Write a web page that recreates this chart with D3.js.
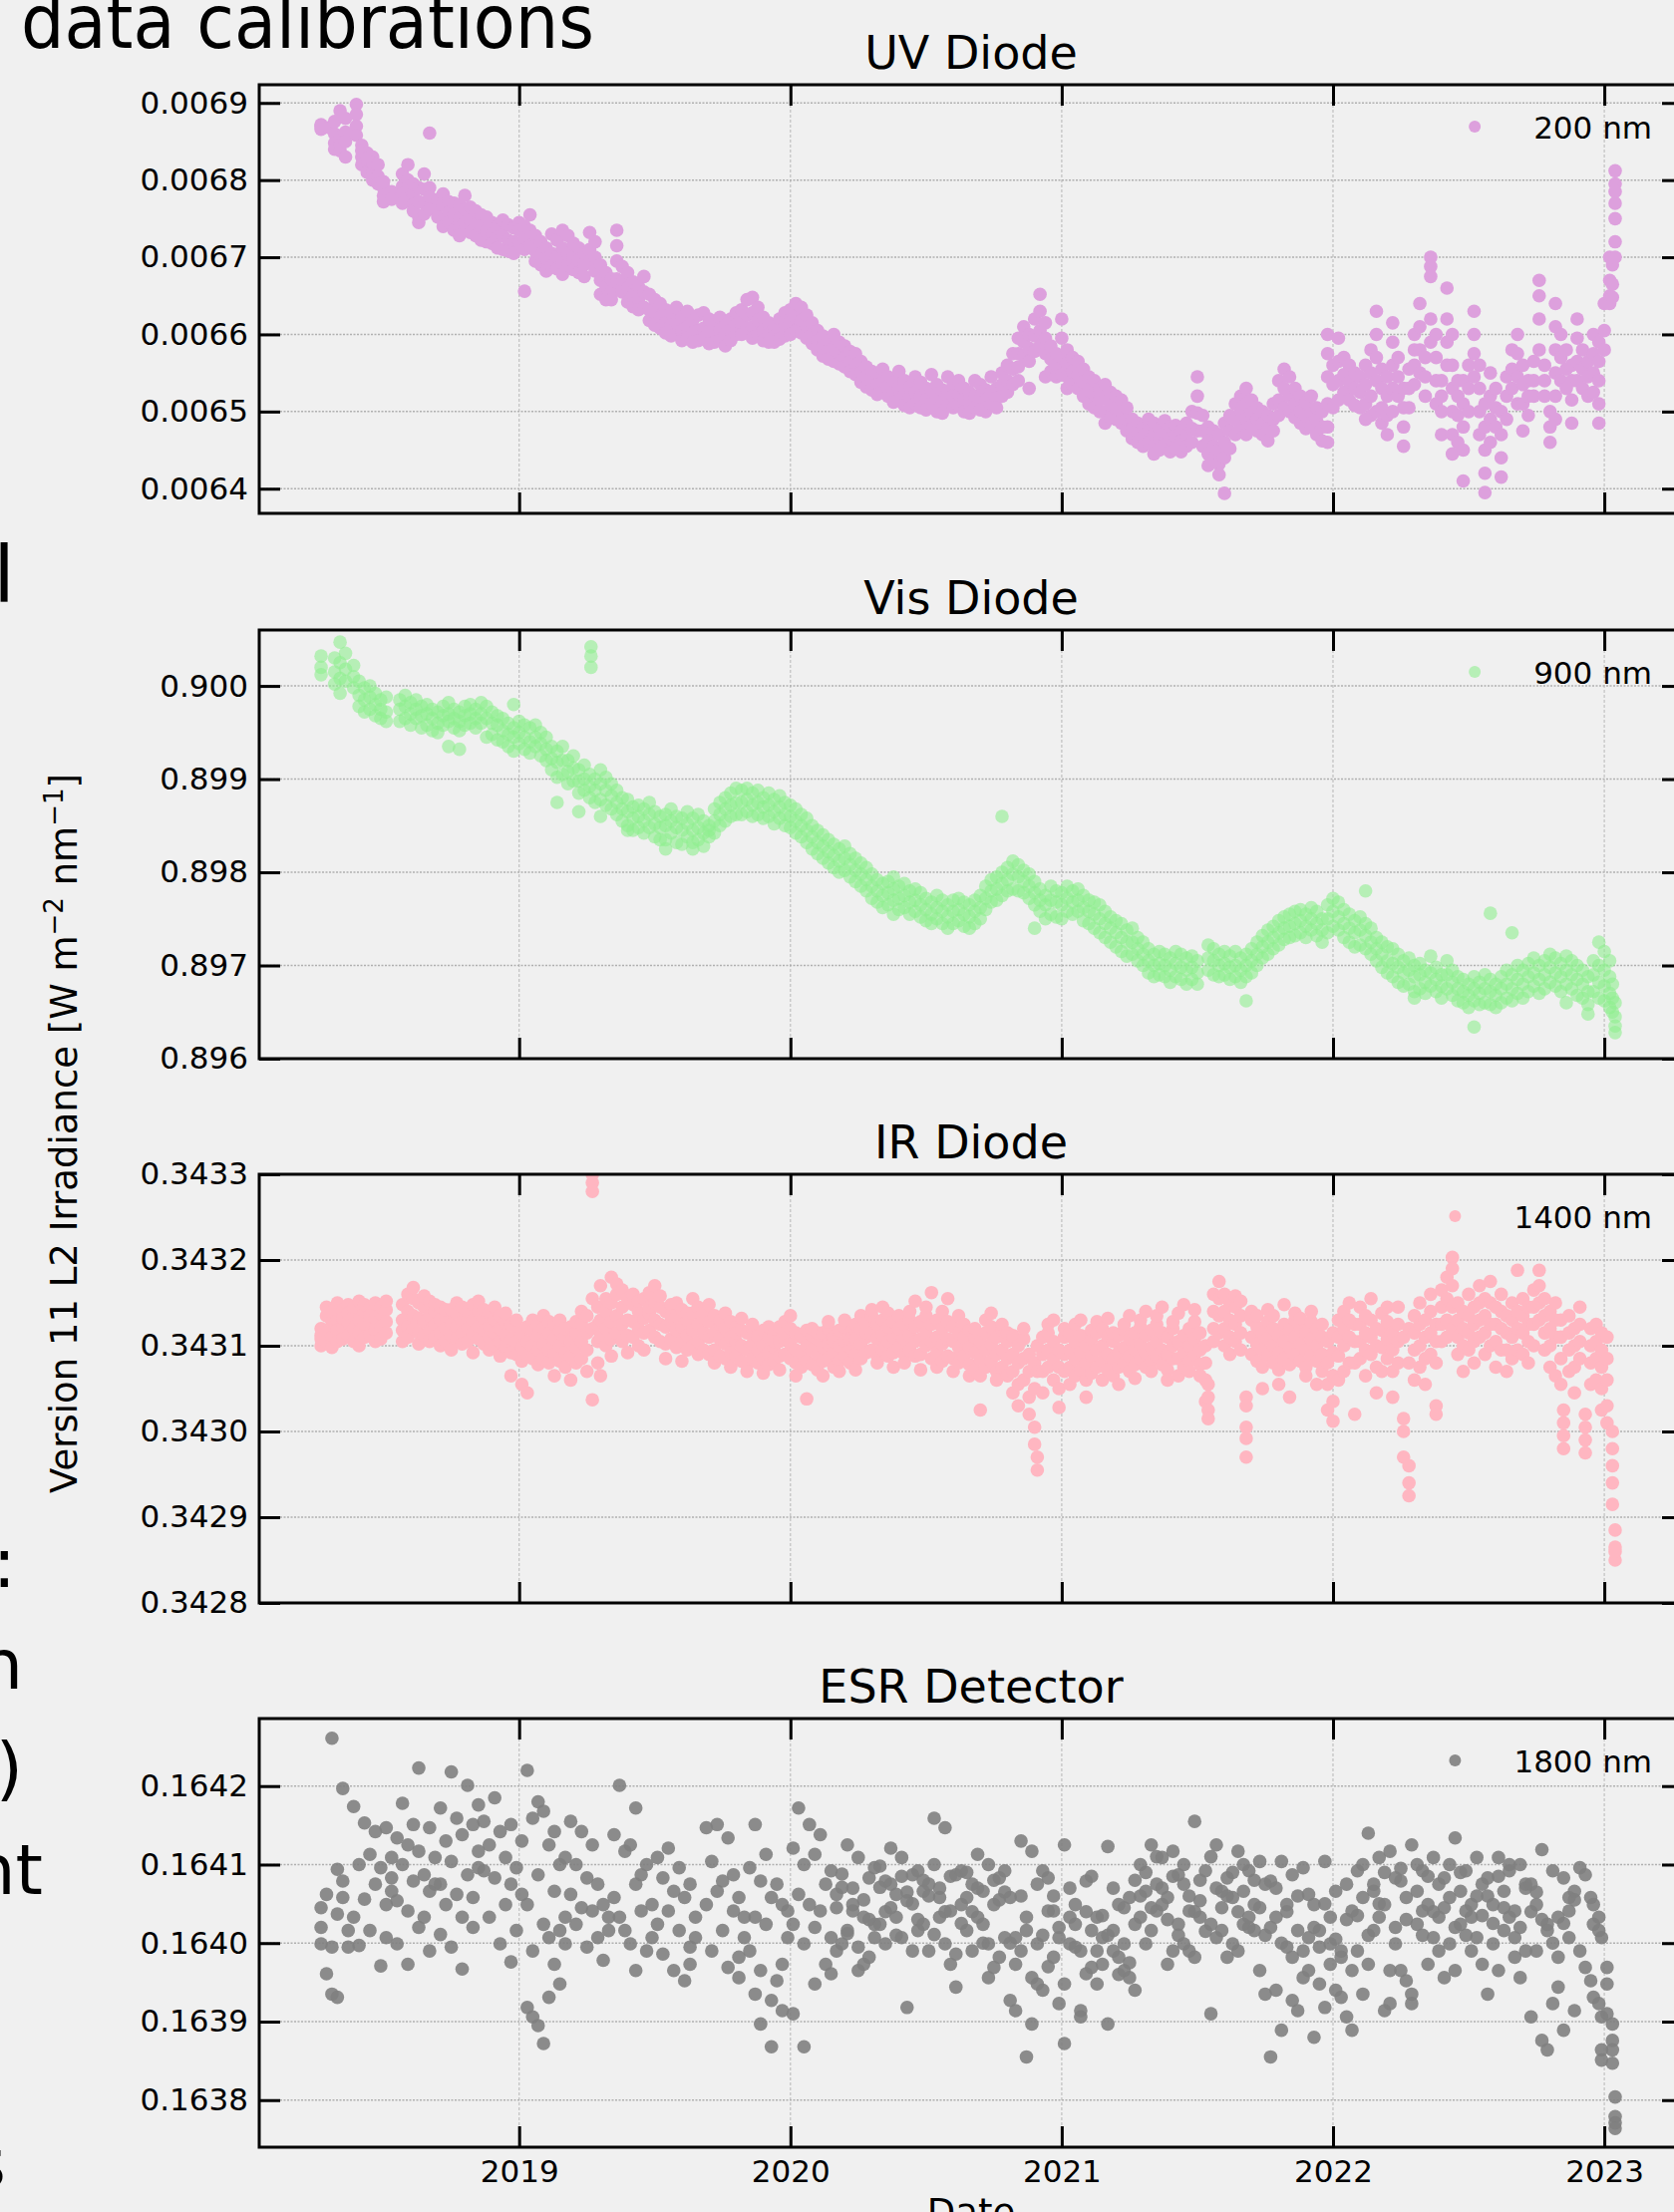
<!DOCTYPE html>
<html>
<head>
<meta charset="utf-8">
<script src="https://cdn.jsdelivr.net/npm/d3@7"></script>
<style>
  body { margin: 0; background: #f0f0f0; }
  text { font-family: "DejaVu Sans", sans-serif; }
</style>
</head>
<body>
<svg id="chart"></svg>
<script>
// --- data: [decimal year, value, value, ...] ---
const years = [2019, 2020, 2021, 2022, 2023];

const uvTicks = [0.0064, 0.0065, 0.0066, 0.0067, 0.0068, 0.0069];
const uvDomain = [0.006368, 0.0069236];
const uvRows = [
  [2018.27, 0.006872, 0.006866, 0.006870], [2018.30, 0.006868],
  [2018.32, 0.006860, 0.006848, 0.006876, 0.006840], [2018.34, 0.006890, 0.006855, 0.006838, 0.006845],
  [2018.36, 0.006880, 0.006862, 0.006830, 0.006850], [2018.40, 0.006898, 0.006885, 0.006870, 0.006858],
  [2018.42, 0.006845, 0.006830, 0.006820, 0.006838], [2018.44, 0.006835, 0.006815, 0.006810, 0.006828],
  [2018.46, 0.006830, 0.006812, 0.006800, 0.006822], [2018.48, 0.006805, 0.006795, 0.006820],
  [2018.50, 0.006790, 0.006780, 0.006772, 0.006798], [2018.53, 0.006785, 0.006775],
  [2018.57, 0.006808, 0.006792, 0.006782, 0.006770], [2018.59, 0.006820, 0.006800, 0.006788, 0.006776],
  [2018.61, 0.006795, 0.006780, 0.006768, 0.006760], [2018.63, 0.006790, 0.006772, 0.006752, 0.006745],
  [2018.65, 0.006808, 0.006788, 0.006770, 0.006756], [2018.67, 0.006861, 0.006790, 0.006778, 0.006762],
  [2018.70, 0.006775, 0.006765, 0.006752], [2018.72, 0.006782, 0.006768, 0.006748, 0.006740],
  [2018.74, 0.006772, 0.006758, 0.006745], [2018.76, 0.006770, 0.006755, 0.006735],
  [2018.78, 0.006768, 0.006750, 0.006738, 0.006728], [2018.80, 0.006780, 0.006762, 0.006745],
  [2018.82, 0.006765, 0.006748, 0.006732], [2018.84, 0.006760, 0.006742, 0.006728],
  [2018.86, 0.006755, 0.006740, 0.006722], [2018.88, 0.006752, 0.006735, 0.006720],
  [2018.90, 0.006745, 0.006730, 0.006718], [2018.92, 0.006740, 0.006726, 0.006712],
  [2018.94, 0.006748, 0.006728, 0.006710], [2018.96, 0.006742, 0.006722, 0.006708],
  [2018.98, 0.006738, 0.006720, 0.006705], [2019.00, 0.006745, 0.006735, 0.006718],
  [2019.02, 0.006740, 0.006726, 0.006710, 0.006656], [2019.04, 0.006755, 0.006735, 0.006715],
  [2019.06, 0.006728, 0.006708, 0.006695], [2019.08, 0.006720, 0.006702, 0.006690],
  [2019.10, 0.006712, 0.006698, 0.006682], [2019.12, 0.006730, 0.006705, 0.006688],
  [2019.14, 0.006722, 0.006700, 0.006685], [2019.16, 0.006735, 0.006712, 0.006692, 0.006678],
  [2019.18, 0.006728, 0.006705, 0.006690], [2019.20, 0.006718, 0.006700, 0.006684],
  [2019.22, 0.006712, 0.006695, 0.006680], [2019.24, 0.006705, 0.006690, 0.006675],
  [2019.26, 0.006732, 0.006710, 0.006695], [2019.28, 0.006720, 0.006700, 0.006682],
  [2019.30, 0.006690, 0.006670, 0.006652], [2019.32, 0.006680, 0.006662, 0.006645],
  [2019.34, 0.006672, 0.006655, 0.006645], [2019.36, 0.006735, 0.006715, 0.006695, 0.006672, 0.006668],
  [2019.38, 0.006688, 0.006668, 0.006655], [2019.40, 0.006680, 0.006660, 0.006642],
  [2019.42, 0.006668, 0.006650, 0.006636], [2019.44, 0.006662, 0.006645, 0.006632],
  [2019.46, 0.006675, 0.006655, 0.006635], [2019.48, 0.006652, 0.006632, 0.006618],
  [2019.50, 0.006645, 0.006628, 0.006612], [2019.52, 0.006640, 0.006622, 0.006608],
  [2019.54, 0.006632, 0.006615, 0.006602], [2019.56, 0.006628, 0.006612, 0.006598],
  [2019.58, 0.006635, 0.006615, 0.006600], [2019.60, 0.006622, 0.006605, 0.006592],
  [2019.62, 0.006630, 0.006610, 0.006595], [2019.64, 0.006618, 0.006602, 0.006590],
  [2019.66, 0.006625, 0.006605, 0.006592], [2019.68, 0.006628, 0.006608, 0.006595],
  [2019.70, 0.006620, 0.006604, 0.006588], [2019.72, 0.006612, 0.006598, 0.006590],
  [2019.74, 0.006622, 0.006606, 0.006592], [2019.76, 0.006612, 0.006600, 0.006585],
  [2019.78, 0.006620, 0.006605, 0.006592], [2019.80, 0.006628, 0.006612, 0.006600],
  [2019.82, 0.006632, 0.006615, 0.006600], [2019.84, 0.006645, 0.006625, 0.006608],
  [2019.86, 0.006648, 0.006628, 0.006610, 0.006595], [2019.88, 0.006635, 0.006618, 0.006600],
  [2019.90, 0.006622, 0.006605, 0.006592], [2019.92, 0.006615, 0.006600, 0.006590],
  [2019.94, 0.006610, 0.006598, 0.006590], [2019.96, 0.006620, 0.006605, 0.006594],
  [2019.98, 0.006628, 0.006612, 0.006598], [2020.00, 0.006632, 0.006615, 0.006600],
  [2020.02, 0.006640, 0.006622, 0.006605], [2020.04, 0.006635, 0.006618, 0.006602],
  [2020.06, 0.006625, 0.006610, 0.006595], [2020.08, 0.006615, 0.006600, 0.006588],
  [2020.10, 0.006605, 0.006592, 0.006580], [2020.12, 0.006598, 0.006585, 0.006572],
  [2020.14, 0.006592, 0.006578, 0.006568], [2020.16, 0.006600, 0.006582, 0.006565],
  [2020.18, 0.006590, 0.006575, 0.006562], [2020.20, 0.006585, 0.006570, 0.006558],
  [2020.22, 0.006578, 0.006565, 0.006552], [2020.24, 0.006575, 0.006560, 0.006548],
  [2020.26, 0.006565, 0.006550, 0.006538], [2020.28, 0.006558, 0.006545, 0.006532],
  [2020.30, 0.006552, 0.006540, 0.006528], [2020.32, 0.006548, 0.006535, 0.006522],
  [2020.34, 0.006555, 0.006538, 0.006525], [2020.36, 0.006545, 0.006532, 0.006520],
  [2020.38, 0.006538, 0.006525, 0.006512], [2020.40, 0.006552, 0.006530, 0.006515],
  [2020.42, 0.006540, 0.006522, 0.006508], [2020.44, 0.006532, 0.006518, 0.006505],
  [2020.46, 0.006545, 0.006525, 0.006510], [2020.48, 0.006538, 0.006520, 0.006505],
  [2020.50, 0.006530, 0.006515, 0.006502], [2020.52, 0.006548, 0.006528, 0.006510],
  [2020.54, 0.006535, 0.006518, 0.006500], [2020.56, 0.006528, 0.006512, 0.006498],
  [2020.58, 0.006545, 0.006525, 0.006508], [2020.60, 0.006535, 0.006520, 0.006505],
  [2020.62, 0.006540, 0.006522, 0.006508], [2020.64, 0.006530, 0.006515, 0.006500],
  [2020.66, 0.006525, 0.006512, 0.006498], [2020.68, 0.006540, 0.006520, 0.006505],
  [2020.70, 0.006535, 0.006518, 0.006502], [2020.72, 0.006528, 0.006515, 0.006500],
  [2020.74, 0.006545, 0.006525, 0.006510], [2020.76, 0.006530, 0.006518, 0.006505],
  [2020.78, 0.006550, 0.006535, 0.006520], [2020.80, 0.006560, 0.006540, 0.006525],
  [2020.82, 0.006575, 0.006555, 0.006535], [2020.84, 0.006595, 0.006575, 0.006558, 0.006540],
  [2020.86, 0.006610, 0.006590, 0.006572], [2020.88, 0.006600, 0.006582, 0.006565, 0.006530],
  [2020.90, 0.006620, 0.006598, 0.006578], [2020.92, 0.006652, 0.006630, 0.006605, 0.006585],
  [2020.94, 0.006615, 0.006595, 0.006575, 0.006545], [2020.96, 0.006585, 0.006568, 0.006552],
  [2020.98, 0.006575, 0.006560, 0.006545], [2021.00, 0.006620, 0.006595, 0.006570, 0.006548],
  [2021.02, 0.006580, 0.006562, 0.006545, 0.006530], [2021.04, 0.006570, 0.006552, 0.006535],
  [2021.06, 0.006565, 0.006548, 0.006530], [2021.08, 0.006555, 0.006538, 0.006520],
  [2021.10, 0.006545, 0.006528, 0.006510], [2021.12, 0.006540, 0.006522, 0.006505],
  [2021.14, 0.006530, 0.006515, 0.006500], [2021.16, 0.006535, 0.006518, 0.006500, 0.006485],
  [2021.18, 0.006525, 0.006508, 0.006492], [2021.20, 0.006520, 0.006505, 0.006490],
  [2021.22, 0.006515, 0.006500, 0.006485], [2021.24, 0.006505, 0.006490, 0.006475],
  [2021.26, 0.006490, 0.006478, 0.006465], [2021.28, 0.006485, 0.006472, 0.006460],
  [2021.30, 0.006480, 0.006468, 0.006455], [2021.32, 0.006490, 0.006475, 0.006460],
  [2021.34, 0.006485, 0.006470, 0.006455, 0.006445], [2021.36, 0.006478, 0.006465, 0.006450],
  [2021.38, 0.006488, 0.006472, 0.006458], [2021.40, 0.006480, 0.006465, 0.006448],
  [2021.42, 0.006482, 0.006468, 0.006452], [2021.44, 0.006475, 0.006462, 0.006448],
  [2021.46, 0.006485, 0.006470, 0.006455], [2021.48, 0.006500, 0.006478, 0.006460],
  [2021.50, 0.006545, 0.006520, 0.006498, 0.006475], [2021.52, 0.006495, 0.006475, 0.006455],
  [2021.54, 0.006480, 0.006462, 0.006445, 0.006430], [2021.56, 0.006475, 0.006455, 0.006438],
  [2021.58, 0.006470, 0.006450, 0.006432, 0.006418], [2021.60, 0.006485, 0.006460, 0.006440, 0.006394],
  [2021.62, 0.006495, 0.006475, 0.006452], [2021.64, 0.006510, 0.006490, 0.006470],
  [2021.66, 0.006520, 0.006500, 0.006480], [2021.68, 0.006530, 0.006510, 0.006490, 0.006470],
  [2021.70, 0.006515, 0.006498, 0.006482], [2021.72, 0.006505, 0.006490, 0.006475],
  [2021.74, 0.006500, 0.006485, 0.006470], [2021.76, 0.006495, 0.006478, 0.006462],
  [2021.78, 0.006510, 0.006490, 0.006475], [2021.80, 0.006540, 0.006515, 0.006495],
  [2021.82, 0.006555, 0.006530, 0.006505], [2021.84, 0.006545, 0.006520, 0.006500],
  [2021.86, 0.006530, 0.006510, 0.006492], [2021.88, 0.006520, 0.006500, 0.006485],
  [2021.90, 0.006512, 0.006495, 0.006478], [2021.92, 0.006520, 0.006500, 0.006480],
  [2021.94, 0.006505, 0.006488, 0.006470], [2021.96, 0.006500, 0.006480, 0.006462],
  [2021.98, 0.006600, 0.006575, 0.006545, 0.006510, 0.006480, 0.006460], [2022.00, 0.006560, 0.006535, 0.006505],
  [2022.02, 0.006595, 0.006565, 0.006540, 0.006515], [2022.04, 0.006570, 0.006548, 0.006525],
  [2022.06, 0.006560, 0.006538, 0.006515], [2022.08, 0.006550, 0.006530, 0.006508],
  [2022.10, 0.006545, 0.006525, 0.006505], [2022.12, 0.006560, 0.006535, 0.006510, 0.006490],
  [2022.14, 0.006580, 0.006550, 0.006520, 0.006495], [2022.16, 0.006630, 0.006600, 0.006570, 0.006540, 0.006500],
  [2022.18, 0.006555, 0.006530, 0.006505, 0.006485], [2022.20, 0.006545, 0.006520, 0.006495, 0.006470],
  [2022.22, 0.006615, 0.006590, 0.006560, 0.006530, 0.006500], [2022.24, 0.006570, 0.006545, 0.006520],
  [2022.26, 0.006530, 0.006505, 0.006480, 0.006455], [2022.28, 0.006555, 0.006530, 0.006505],
  [2022.30, 0.006600, 0.006580, 0.006560, 0.006535], [2022.32, 0.006640, 0.006610, 0.006580, 0.006550],
  [2022.34, 0.006570, 0.006545, 0.006520], [2022.36, 0.006700, 0.006688, 0.006675, 0.006620, 0.006590],
  [2022.38, 0.006600, 0.006570, 0.006540, 0.006510], [2022.40, 0.006540, 0.006520, 0.006500, 0.006470],
  [2022.42, 0.006660, 0.006620, 0.006590, 0.006560], [2022.44, 0.006600, 0.006560, 0.006530, 0.006500, 0.006470, 0.006445],
  [2022.46, 0.006540, 0.006520, 0.006495, 0.006460], [2022.48, 0.006540, 0.006510, 0.006480, 0.006450, 0.006410],
  [2022.50, 0.006560, 0.006530, 0.006500], [2022.52, 0.006630, 0.006600, 0.006575, 0.006545],
  [2022.54, 0.006560, 0.006530, 0.006500, 0.006470], [2022.56, 0.006510, 0.006480, 0.006450, 0.006420, 0.006395],
  [2022.58, 0.006550, 0.006520, 0.006490, 0.006460], [2022.60, 0.006530, 0.006505, 0.006480],
  [2022.62, 0.006500, 0.006470, 0.006440, 0.006415], [2022.64, 0.006545, 0.006520, 0.006490],
  [2022.66, 0.006580, 0.006555, 0.006530], [2022.68, 0.006600, 0.006575, 0.006545, 0.006510],
  [2022.70, 0.006560, 0.006535, 0.006510, 0.006475], [2022.72, 0.006540, 0.006520, 0.006495],
  [2022.74, 0.006565, 0.006540, 0.006520], [2022.76, 0.006670, 0.006650, 0.006620, 0.006580],
  [2022.78, 0.006560, 0.006540, 0.006520], [2022.80, 0.006500, 0.006480, 0.006460],
  [2022.82, 0.006640, 0.006610, 0.006580, 0.006550, 0.006520, 0.006490], [2022.84, 0.006600, 0.006570, 0.006540],
  [2022.86, 0.006580, 0.006555, 0.006530], [2022.88, 0.006560, 0.006540, 0.006515, 0.006485],
  [2022.90, 0.006620, 0.006595, 0.006565, 0.006540], [2022.92, 0.006580, 0.006555, 0.006530],
  [2022.94, 0.006565, 0.006545, 0.006520], [2022.96, 0.006600, 0.006575, 0.006550, 0.006525],
  [2022.98, 0.006590, 0.006565, 0.006540, 0.006510, 0.006485], [2023.00, 0.006640, 0.006605, 0.006580],
  [2023.02, 0.006700, 0.006670, 0.006650, 0.006640], [2023.03, 0.006690, 0.006665, 0.006648],
  [2023.04, 0.006812, 0.006795, 0.006785, 0.006770, 0.006750, 0.006720, 0.006700]
];

const visTicks = [0.896, 0.897, 0.898, 0.899, 0.900];
const visDomain = [0.896, 0.9006];
const visRows = [
  [2018.27, 0.90032, 0.90020, 0.90012], [2018.32, 0.90030, 0.90015, 0.90002],
  [2018.34, 0.90047, 0.90025, 0.90008, 0.89992], [2018.36, 0.90035, 0.90018, 0.90005],
  [2018.39, 0.90010, 0.89998, 0.90022], [2018.41, 0.90005, 0.89990, 0.89978],
  [2018.43, 0.89998, 0.89985, 0.89972], [2018.45, 0.90000, 0.89988, 0.89975],
  [2018.47, 0.89992, 0.89980, 0.89968], [2018.49, 0.89985, 0.89975, 0.89965],
  [2018.51, 0.89988, 0.89972, 0.89962], [2018.56, 0.89985, 0.89975, 0.89962],
  [2018.58, 0.89990, 0.89978, 0.89965], [2018.60, 0.89982, 0.89970, 0.89958],
  [2018.62, 0.89985, 0.89975, 0.89965], [2018.64, 0.89978, 0.89968, 0.89955],
  [2018.66, 0.89980, 0.89970, 0.89958], [2018.68, 0.89975, 0.89965, 0.89952],
  [2018.70, 0.89972, 0.89960, 0.89950], [2018.72, 0.89978, 0.89968, 0.89958],
  [2018.74, 0.89982, 0.89970, 0.89962, 0.89935], [2018.76, 0.89975, 0.89965, 0.89955],
  [2018.78, 0.89972, 0.89962, 0.89952, 0.89932], [2018.80, 0.89978, 0.89968, 0.89958],
  [2018.82, 0.89980, 0.89970, 0.89960], [2018.84, 0.89975, 0.89965, 0.89955],
  [2018.86, 0.89982, 0.89970, 0.89960], [2018.88, 0.89978, 0.89965, 0.89945],
  [2018.90, 0.89972, 0.89960, 0.89948], [2018.92, 0.89968, 0.89958, 0.89942],
  [2018.94, 0.89965, 0.89952, 0.89940], [2018.96, 0.89960, 0.89948, 0.89935],
  [2018.98, 0.89955, 0.89945, 0.89930, 0.89980], [2019.00, 0.89962, 0.89950, 0.89938],
  [2019.02, 0.89958, 0.89945, 0.89932], [2019.04, 0.89955, 0.89940, 0.89928],
  [2019.06, 0.89958, 0.89945, 0.89935], [2019.08, 0.89950, 0.89938, 0.89925],
  [2019.10, 0.89945, 0.89932, 0.89920], [2019.12, 0.89935, 0.89922, 0.89910],
  [2019.14, 0.89930, 0.89918, 0.89902, 0.89875], [2019.16, 0.89935, 0.89920, 0.89905],
  [2019.18, 0.89920, 0.89908, 0.89895], [2019.20, 0.89925, 0.89912, 0.89898],
  [2019.22, 0.89910, 0.89898, 0.89885, 0.89865], [2019.24, 0.89915, 0.89900, 0.89888],
  [2019.26, 0.89905, 0.89892, 0.89880], [2019.265, 0.90042, 0.90032, 0.90020],
  [2019.28, 0.89900, 0.89888, 0.89875], [2019.30, 0.89910, 0.89895, 0.89878, 0.89860],
  [2019.32, 0.89902, 0.89888, 0.89872], [2019.34, 0.89895, 0.89882, 0.89868],
  [2019.36, 0.89888, 0.89875, 0.89862], [2019.38, 0.89880, 0.89868, 0.89855],
  [2019.40, 0.89878, 0.89865, 0.89850, 0.89845], [2019.42, 0.89870, 0.89858, 0.89845],
  [2019.44, 0.89872, 0.89860, 0.89848], [2019.46, 0.89868, 0.89855, 0.89842],
  [2019.48, 0.89875, 0.89862, 0.89848], [2019.50, 0.89865, 0.89852, 0.89838],
  [2019.52, 0.89860, 0.89848, 0.89835], [2019.54, 0.89862, 0.89850, 0.89835, 0.89825],
  [2019.56, 0.89868, 0.89855, 0.89842], [2019.58, 0.89860, 0.89848, 0.89832],
  [2019.60, 0.89858, 0.89845, 0.89830], [2019.62, 0.89865, 0.89852, 0.89838],
  [2019.64, 0.89858, 0.89845, 0.89832, 0.89825], [2019.66, 0.89862, 0.89848, 0.89835],
  [2019.68, 0.89855, 0.89842, 0.89828], [2019.70, 0.89850, 0.89838, 0.89845],
  [2019.72, 0.89868, 0.89855, 0.89842], [2019.74, 0.89875, 0.89862, 0.89850],
  [2019.76, 0.89880, 0.89868, 0.89855], [2019.78, 0.89885, 0.89872, 0.89860],
  [2019.80, 0.89890, 0.89875, 0.89862], [2019.82, 0.89888, 0.89875, 0.89862],
  [2019.84, 0.89890, 0.89878, 0.89865], [2019.86, 0.89885, 0.89872, 0.89860],
  [2019.88, 0.89888, 0.89875, 0.89862], [2019.90, 0.89880, 0.89870, 0.89858],
  [2019.92, 0.89885, 0.89872, 0.89860], [2019.94, 0.89878, 0.89865, 0.89852],
  [2019.96, 0.89882, 0.89870, 0.89858], [2019.98, 0.89875, 0.89862, 0.89850],
  [2020.00, 0.89872, 0.89860, 0.89848], [2020.02, 0.89868, 0.89855, 0.89842],
  [2020.04, 0.89862, 0.89850, 0.89838], [2020.06, 0.89858, 0.89845, 0.89832],
  [2020.08, 0.89850, 0.89838, 0.89825], [2020.10, 0.89845, 0.89832, 0.89820],
  [2020.12, 0.89840, 0.89828, 0.89815], [2020.14, 0.89835, 0.89822, 0.89810],
  [2020.16, 0.89830, 0.89818, 0.89805], [2020.18, 0.89825, 0.89812, 0.89800],
  [2020.20, 0.89828, 0.89815, 0.89802], [2020.22, 0.89820, 0.89808, 0.89795],
  [2020.24, 0.89815, 0.89802, 0.89790], [2020.26, 0.89810, 0.89798, 0.89785],
  [2020.28, 0.89805, 0.89792, 0.89780], [2020.30, 0.89798, 0.89785, 0.89772],
  [2020.32, 0.89792, 0.89780, 0.89768], [2020.34, 0.89788, 0.89775, 0.89762],
  [2020.36, 0.89790, 0.89778, 0.89765], [2020.38, 0.89795, 0.89782, 0.89770, 0.89755],
  [2020.40, 0.89785, 0.89772, 0.89760], [2020.42, 0.89788, 0.89775, 0.89762],
  [2020.44, 0.89780, 0.89768, 0.89755], [2020.46, 0.89782, 0.89770, 0.89758],
  [2020.48, 0.89778, 0.89765, 0.89752], [2020.50, 0.89772, 0.89760, 0.89748],
  [2020.52, 0.89768, 0.89755, 0.89745], [2020.54, 0.89775, 0.89762, 0.89750],
  [2020.56, 0.89770, 0.89758, 0.89745], [2020.58, 0.89765, 0.89752, 0.89740],
  [2020.60, 0.89770, 0.89758, 0.89745], [2020.62, 0.89772, 0.89760, 0.89748],
  [2020.64, 0.89768, 0.89755, 0.89742], [2020.66, 0.89765, 0.89752, 0.89740],
  [2020.68, 0.89770, 0.89758, 0.89745], [2020.70, 0.89775, 0.89762, 0.89750],
  [2020.72, 0.89785, 0.89772, 0.89760], [2020.74, 0.89792, 0.89780, 0.89768],
  [2020.76, 0.89795, 0.89782, 0.89770], [2020.78, 0.89800, 0.89788, 0.89775, 0.89860],
  [2020.80, 0.89805, 0.89792, 0.89780], [2020.82, 0.89812, 0.89798, 0.89782],
  [2020.84, 0.89808, 0.89795, 0.89780], [2020.86, 0.89802, 0.89790, 0.89778],
  [2020.88, 0.89798, 0.89785, 0.89772], [2020.90, 0.89790, 0.89778, 0.89765, 0.89740],
  [2020.92, 0.89782, 0.89770, 0.89758], [2020.94, 0.89775, 0.89765, 0.89750],
  [2020.96, 0.89785, 0.89770, 0.89755], [2020.98, 0.89780, 0.89768, 0.89752],
  [2021.00, 0.89778, 0.89765, 0.89750], [2021.02, 0.89785, 0.89772, 0.89758],
  [2021.04, 0.89780, 0.89768, 0.89755], [2021.06, 0.89782, 0.89770, 0.89758],
  [2021.08, 0.89775, 0.89762, 0.89748], [2021.10, 0.89770, 0.89758, 0.89745],
  [2021.12, 0.89768, 0.89755, 0.89740], [2021.14, 0.89765, 0.89750, 0.89735],
  [2021.16, 0.89758, 0.89745, 0.89730], [2021.18, 0.89752, 0.89740, 0.89725],
  [2021.20, 0.89748, 0.89735, 0.89720], [2021.22, 0.89745, 0.89730, 0.89715],
  [2021.24, 0.89738, 0.89725, 0.89710], [2021.26, 0.89740, 0.89725, 0.89712],
  [2021.28, 0.89730, 0.89718, 0.89705], [2021.30, 0.89725, 0.89712, 0.89700],
  [2021.32, 0.89718, 0.89705, 0.89692], [2021.34, 0.89712, 0.89700, 0.89688],
  [2021.36, 0.89715, 0.89702, 0.89690], [2021.38, 0.89712, 0.89700, 0.89688],
  [2021.40, 0.89708, 0.89695, 0.89682], [2021.42, 0.89715, 0.89702, 0.89688],
  [2021.44, 0.89712, 0.89698, 0.89685], [2021.46, 0.89708, 0.89695, 0.89680],
  [2021.48, 0.89710, 0.89698, 0.89685], [2021.50, 0.89705, 0.89692, 0.89680],
  [2021.54, 0.89722, 0.89708, 0.89695], [2021.56, 0.89718, 0.89705, 0.89690],
  [2021.58, 0.89712, 0.89700, 0.89688], [2021.60, 0.89715, 0.89702, 0.89690],
  [2021.62, 0.89710, 0.89698, 0.89685], [2021.64, 0.89715, 0.89700, 0.89688],
  [2021.66, 0.89708, 0.89695, 0.89682], [2021.68, 0.89712, 0.89700, 0.89688, 0.89662],
  [2021.70, 0.89718, 0.89705, 0.89692], [2021.72, 0.89725, 0.89712, 0.89700],
  [2021.74, 0.89732, 0.89720, 0.89708], [2021.76, 0.89738, 0.89725, 0.89712],
  [2021.78, 0.89742, 0.89730, 0.89718], [2021.80, 0.89748, 0.89735, 0.89722],
  [2021.82, 0.89752, 0.89740, 0.89728], [2021.84, 0.89755, 0.89742, 0.89730],
  [2021.86, 0.89758, 0.89745, 0.89732], [2021.88, 0.89760, 0.89748, 0.89735],
  [2021.90, 0.89755, 0.89742, 0.89730], [2021.92, 0.89762, 0.89750, 0.89738],
  [2021.94, 0.89758, 0.89745, 0.89732], [2021.96, 0.89750, 0.89738, 0.89725],
  [2021.98, 0.89765, 0.89750, 0.89735], [2022.00, 0.89772, 0.89758, 0.89742],
  [2022.02, 0.89768, 0.89752, 0.89738], [2022.04, 0.89760, 0.89745, 0.89730],
  [2022.06, 0.89755, 0.89740, 0.89725], [2022.08, 0.89748, 0.89735, 0.89720],
  [2022.10, 0.89752, 0.89738, 0.89722], [2022.12, 0.89745, 0.89732, 0.89718, 0.89780],
  [2022.14, 0.89740, 0.89725, 0.89712], [2022.16, 0.89730, 0.89718, 0.89705],
  [2022.18, 0.89725, 0.89712, 0.89698], [2022.20, 0.89720, 0.89705, 0.89692],
  [2022.22, 0.89718, 0.89702, 0.89688], [2022.24, 0.89712, 0.89698, 0.89682],
  [2022.26, 0.89705, 0.89692, 0.89678], [2022.28, 0.89708, 0.89695, 0.89680],
  [2022.30, 0.89700, 0.89688, 0.89672, 0.89665], [2022.32, 0.89702, 0.89690, 0.89675],
  [2022.34, 0.89695, 0.89682, 0.89670], [2022.36, 0.89710, 0.89692, 0.89678],
  [2022.38, 0.89698, 0.89685, 0.89672], [2022.40, 0.89690, 0.89678, 0.89665],
  [2022.42, 0.89705, 0.89690, 0.89675], [2022.44, 0.89695, 0.89682, 0.89668],
  [2022.46, 0.89688, 0.89675, 0.89662], [2022.48, 0.89685, 0.89672, 0.89660],
  [2022.50, 0.89680, 0.89668, 0.89655], [2022.52, 0.89688, 0.89675, 0.89662, 0.89634],
  [2022.54, 0.89682, 0.89670, 0.89658], [2022.56, 0.89690, 0.89675, 0.89660],
  [2022.58, 0.89685, 0.89672, 0.89658, 0.89756], [2022.60, 0.89680, 0.89668, 0.89655],
  [2022.62, 0.89688, 0.89675, 0.89660], [2022.64, 0.89695, 0.89680, 0.89665],
  [2022.66, 0.89690, 0.89675, 0.89662, 0.89735], [2022.68, 0.89700, 0.89685, 0.89670],
  [2022.70, 0.89695, 0.89680, 0.89665], [2022.72, 0.89702, 0.89688, 0.89672],
  [2022.74, 0.89708, 0.89692, 0.89678], [2022.76, 0.89700, 0.89685, 0.89670],
  [2022.78, 0.89705, 0.89690, 0.89675], [2022.80, 0.89712, 0.89698, 0.89682],
  [2022.82, 0.89708, 0.89692, 0.89678], [2022.84, 0.89702, 0.89688, 0.89672],
  [2022.86, 0.89710, 0.89695, 0.89680, 0.89660], [2022.88, 0.89705, 0.89690, 0.89675],
  [2022.90, 0.89700, 0.89685, 0.89668], [2022.92, 0.89695, 0.89680, 0.89665],
  [2022.94, 0.89688, 0.89672, 0.89658, 0.89648], [2022.96, 0.89705, 0.89690, 0.89672],
  [2022.98, 0.89725, 0.89700, 0.89682, 0.89665], [2023.00, 0.89715, 0.89695, 0.89678, 0.89662],
  [2023.02, 0.89705, 0.89688, 0.89670, 0.89655], [2023.03, 0.89680, 0.89665, 0.89650],
  [2023.04, 0.89660, 0.89645, 0.89635, 0.89628]
];

const irTicks = [0.3428, 0.3429, 0.3430, 0.3431, 0.3432, 0.3433];
const irDomain = [0.3428, 0.3433];
const irRows = [
  [2018.27, 0.343120, 0.343100, 0.343112, 0.343108], [2018.29, 0.343135, 0.343115, 0.343145, 0.343105],
  [2018.31, 0.343128, 0.343110, 0.343140, 0.343098], [2018.33, 0.343150, 0.343130, 0.343118, 0.343105],
  [2018.35, 0.343142, 0.343122, 0.343108, 0.343132], [2018.37, 0.343148, 0.343128, 0.343112, 0.343138],
  [2018.39, 0.343135, 0.343120, 0.343105, 0.343145], [2018.41, 0.343152, 0.343130, 0.343115, 0.343100],
  [2018.43, 0.343140, 0.343125, 0.343110, 0.343148], [2018.45, 0.343145, 0.343128, 0.343112, 0.343135],
  [2018.47, 0.343150, 0.343132, 0.343118, 0.343105], [2018.49, 0.343138, 0.343122, 0.343108, 0.343145],
  [2018.51, 0.343142, 0.343128, 0.343115, 0.343152], [2018.57, 0.343148, 0.343130, 0.343118, 0.343105],
  [2018.59, 0.343160, 0.343140, 0.343122, 0.343110], [2018.61, 0.343155, 0.343135, 0.343120, 0.343168],
  [2018.63, 0.343150, 0.343132, 0.343115, 0.343102], [2018.65, 0.343145, 0.343128, 0.343112, 0.343158],
  [2018.67, 0.343152, 0.343135, 0.343118, 0.343105], [2018.69, 0.343140, 0.343125, 0.343110, 0.343148],
  [2018.71, 0.343145, 0.343130, 0.343115, 0.343100], [2018.73, 0.343135, 0.343120, 0.343105, 0.343142],
  [2018.75, 0.343142, 0.343125, 0.343112, 0.343095], [2018.77, 0.343138, 0.343122, 0.343108, 0.343150],
  [2018.79, 0.343145, 0.343128, 0.343115, 0.343102], [2018.81, 0.343135, 0.343120, 0.343105, 0.343140],
  [2018.83, 0.343148, 0.343130, 0.343115, 0.343092], [2018.85, 0.343140, 0.343122, 0.343108, 0.343152],
  [2018.87, 0.343132, 0.343118, 0.343102, 0.343142], [2018.89, 0.343138, 0.343122, 0.343110, 0.343095],
  [2018.91, 0.343130, 0.343115, 0.343100, 0.343145], [2018.93, 0.343135, 0.343120, 0.343105, 0.343088],
  [2018.95, 0.343128, 0.343112, 0.343098, 0.343138], [2018.97, 0.343125, 0.343108, 0.343092, 0.343065],
  [2018.99, 0.343120, 0.343105, 0.343090, 0.343130], [2019.01, 0.343115, 0.343098, 0.343082, 0.343055],
  [2019.03, 0.343122, 0.343105, 0.343088, 0.343045], [2019.05, 0.343118, 0.343100, 0.343085, 0.343130],
  [2019.07, 0.343112, 0.343095, 0.343078, 0.343125], [2019.09, 0.343120, 0.343102, 0.343085, 0.343135],
  [2019.11, 0.343115, 0.343095, 0.343080, 0.343128], [2019.13, 0.343125, 0.343108, 0.343090, 0.343065],
  [2019.15, 0.343118, 0.343100, 0.343082, 0.343130], [2019.17, 0.343110, 0.343092, 0.343075, 0.343120],
  [2019.19, 0.343122, 0.343105, 0.343088, 0.343060], [2019.21, 0.343115, 0.343098, 0.343080, 0.343128],
  [2019.23, 0.343125, 0.343105, 0.343085, 0.343140], [2019.25, 0.343135, 0.343115, 0.343095, 0.343070],
  [2019.27, 0.343300, 0.343290, 0.343280, 0.343155, 0.343037, 0.343120],
  [2019.29, 0.343145, 0.343125, 0.343105, 0.343080], [2019.30, 0.343170, 0.343130, 0.343110, 0.343065],
  [2019.32, 0.343140, 0.343120, 0.343100, 0.343155], [2019.34, 0.343150, 0.343128, 0.343108, 0.343088, 0.343180],
  [2019.36, 0.343160, 0.343135, 0.343115, 0.343172], [2019.38, 0.343145, 0.343125, 0.343105, 0.343165],
  [2019.40, 0.343155, 0.343130, 0.343112, 0.343092], [2019.42, 0.343148, 0.343128, 0.343110, 0.343160],
  [2019.44, 0.343140, 0.343120, 0.343100, 0.343152], [2019.46, 0.343155, 0.343132, 0.343115, 0.343095],
  [2019.48, 0.343162, 0.343138, 0.343118, 0.343145], [2019.50, 0.343150, 0.343130, 0.343110, 0.343170],
  [2019.52, 0.343145, 0.343125, 0.343105, 0.343158], [2019.54, 0.343140, 0.343122, 0.343102, 0.343085],
  [2019.56, 0.343148, 0.343128, 0.343108, 0.343135], [2019.58, 0.343135, 0.343118, 0.343098, 0.343150],
  [2019.60, 0.343142, 0.343122, 0.343105, 0.343082], [2019.62, 0.343130, 0.343112, 0.343095, 0.343138],
  [2019.64, 0.343138, 0.343118, 0.343100, 0.343155], [2019.66, 0.343145, 0.343125, 0.343105, 0.343090],
  [2019.68, 0.343132, 0.343115, 0.343095, 0.343140], [2019.70, 0.343128, 0.343110, 0.343090, 0.343148],
  [2019.72, 0.343135, 0.343115, 0.343095, 0.343080], [2019.74, 0.343125, 0.343108, 0.343088, 0.343130],
  [2019.76, 0.343120, 0.343102, 0.343085, 0.343138], [2019.78, 0.343128, 0.343110, 0.343092, 0.343075],
  [2019.80, 0.343122, 0.343105, 0.343088, 0.343115], [2019.82, 0.343118, 0.343100, 0.343082, 0.343132],
  [2019.84, 0.343115, 0.343095, 0.343078, 0.343070], [2019.86, 0.343120, 0.343102, 0.343085, 0.343125],
  [2019.88, 0.343112, 0.343095, 0.343080, 0.343110], [2019.90, 0.343118, 0.343100, 0.343085, 0.343068],
  [2019.92, 0.343110, 0.343092, 0.343078, 0.343122], [2019.94, 0.343115, 0.343098, 0.343082, 0.343105],
  [2019.96, 0.343122, 0.343105, 0.343088, 0.343072], [2019.98, 0.343128, 0.343108, 0.343090, 0.343115],
  [2020.00, 0.343120, 0.343102, 0.343085, 0.343135], [2020.02, 0.343115, 0.343095, 0.343080, 0.343065],
  [2020.04, 0.343110, 0.343092, 0.343075, 0.343112], [2020.06, 0.343118, 0.343100, 0.343082, 0.343038],
  [2020.08, 0.343112, 0.343095, 0.343078, 0.343120], [2020.10, 0.343108, 0.343090, 0.343072, 0.343115],
  [2020.12, 0.343115, 0.343098, 0.343082, 0.343065], [2020.14, 0.343120, 0.343102, 0.343085, 0.343128],
  [2020.16, 0.343110, 0.343092, 0.343075, 0.343105], [2020.18, 0.343118, 0.343100, 0.343082, 0.343070],
  [2020.20, 0.343122, 0.343105, 0.343088, 0.343130], [2020.22, 0.343115, 0.343098, 0.343080, 0.343108],
  [2020.24, 0.343125, 0.343108, 0.343090, 0.343072], [2020.26, 0.343120, 0.343102, 0.343085, 0.343135],
  [2020.28, 0.343128, 0.343110, 0.343092, 0.343115], [2020.30, 0.343135, 0.343115, 0.343095, 0.343142],
  [2020.32, 0.343125, 0.343108, 0.343088, 0.343080], [2020.34, 0.343130, 0.343112, 0.343095, 0.343145],
  [2020.36, 0.343122, 0.343105, 0.343088, 0.343138], [2020.38, 0.343128, 0.343110, 0.343092, 0.343075],
  [2020.40, 0.343135, 0.343115, 0.343098, 0.343120], [2020.42, 0.343125, 0.343108, 0.343090, 0.343080],
  [2020.44, 0.343130, 0.343112, 0.343095, 0.343140], [2020.46, 0.343122, 0.343105, 0.343088, 0.343152],
  [2020.48, 0.343128, 0.343108, 0.343090, 0.343072], [2020.50, 0.343135, 0.343115, 0.343100, 0.343145],
  [2020.52, 0.343125, 0.343105, 0.343085, 0.343162], [2020.54, 0.343130, 0.343110, 0.343092, 0.343075],
  [2020.56, 0.343120, 0.343102, 0.343082, 0.343140], [2020.58, 0.343128, 0.343108, 0.343088, 0.343155],
  [2020.60, 0.343122, 0.343105, 0.343085, 0.343070], [2020.62, 0.343115, 0.343098, 0.343080, 0.343135],
  [2020.64, 0.343125, 0.343105, 0.343088, 0.343110], [2020.66, 0.343118, 0.343098, 0.343078, 0.343065],
  [2020.68, 0.343110, 0.343092, 0.343072, 0.343120], [2020.70, 0.343105, 0.343085, 0.343065, 0.343025],
  [2020.72, 0.343115, 0.343095, 0.343075, 0.343130], [2020.74, 0.343122, 0.343102, 0.343082, 0.343138],
  [2020.76, 0.343110, 0.343090, 0.343070, 0.343060], [2020.78, 0.343118, 0.343095, 0.343075, 0.343125],
  [2020.80, 0.343105, 0.343085, 0.343065, 0.343115], [2020.82, 0.343112, 0.343090, 0.343070, 0.343045],
  [2020.84, 0.343100, 0.343080, 0.343055, 0.343030], [2020.86, 0.343108, 0.343085, 0.343060, 0.343120],
  [2020.88, 0.343090, 0.343070, 0.343040, 0.343020], [2020.90, 0.343080, 0.343050, 0.343005, 0.342985],
  [2020.91, 0.342970, 0.342955, 0.343100, 0.343070], [2020.93, 0.343110, 0.343090, 0.343070, 0.343045],
  [2020.95, 0.343115, 0.343095, 0.343075, 0.343125], [2020.97, 0.343105, 0.343085, 0.343060, 0.343130],
  [2020.99, 0.343095, 0.343075, 0.343050, 0.343028], [2021.01, 0.343110, 0.343090, 0.343070, 0.343120],
  [2021.03, 0.343115, 0.343095, 0.343075, 0.343055], [2021.05, 0.343105, 0.343085, 0.343065, 0.343125],
  [2021.07, 0.343112, 0.343092, 0.343072, 0.343130], [2021.09, 0.343100, 0.343080, 0.343060, 0.343040],
  [2021.11, 0.343108, 0.343088, 0.343068, 0.343118], [2021.13, 0.343115, 0.343095, 0.343075, 0.343128],
  [2021.15, 0.343120, 0.343100, 0.343082, 0.343060], [2021.17, 0.343110, 0.343090, 0.343072, 0.343132],
  [2021.19, 0.343105, 0.343085, 0.343065, 0.343115], [2021.21, 0.343112, 0.343092, 0.343075, 0.343055],
  [2021.23, 0.343118, 0.343098, 0.343080, 0.343125], [2021.25, 0.343108, 0.343088, 0.343070, 0.343135],
  [2021.27, 0.343115, 0.343095, 0.343078, 0.343062], [2021.29, 0.343122, 0.343102, 0.343085, 0.343130],
  [2021.31, 0.343112, 0.343092, 0.343075, 0.343140], [2021.33, 0.343118, 0.343098, 0.343082, 0.343070],
  [2021.35, 0.343125, 0.343105, 0.343088, 0.343135], [2021.37, 0.343115, 0.343095, 0.343078, 0.343145],
  [2021.39, 0.343110, 0.343090, 0.343072, 0.343060], [2021.41, 0.343120, 0.343100, 0.343085, 0.343128],
  [2021.43, 0.343105, 0.343085, 0.343065, 0.343138], [2021.45, 0.343112, 0.343092, 0.343075, 0.343148],
  [2021.47, 0.343120, 0.343100, 0.343082, 0.343070], [2021.49, 0.343128, 0.343108, 0.343090, 0.343142],
  [2021.51, 0.343115, 0.343095, 0.343078, 0.343065], [2021.53, 0.343100, 0.343080, 0.343060, 0.343035],
  [2021.54, 0.343055, 0.343040, 0.343025, 0.343015], [2021.56, 0.343140, 0.343120, 0.343105, 0.343160],
  [2021.58, 0.343175, 0.343155, 0.343135, 0.343115], [2021.60, 0.343160, 0.343140, 0.343120, 0.343100],
  [2021.62, 0.343150, 0.343130, 0.343110, 0.343090], [2021.64, 0.343145, 0.343125, 0.343105, 0.343158],
  [2021.66, 0.343135, 0.343115, 0.343095, 0.343152], [2021.68, 0.343040, 0.343030, 0.343005, 0.342992, 0.342970],
  [2021.70, 0.343130, 0.343110, 0.343090, 0.343140], [2021.72, 0.343122, 0.343102, 0.343082, 0.343135],
  [2021.74, 0.343115, 0.343095, 0.343075, 0.343050], [2021.76, 0.343128, 0.343108, 0.343088, 0.343142],
  [2021.78, 0.343120, 0.343100, 0.343080, 0.343135], [2021.80, 0.343112, 0.343092, 0.343072, 0.343055],
  [2021.82, 0.343125, 0.343105, 0.343085, 0.343148], [2021.84, 0.343118, 0.343098, 0.343078, 0.343040],
  [2021.86, 0.343130, 0.343110, 0.343090, 0.343138], [2021.88, 0.343122, 0.343102, 0.343082, 0.343132],
  [2021.90, 0.343115, 0.343095, 0.343075, 0.343065], [2021.92, 0.343128, 0.343108, 0.343088, 0.343140],
  [2021.94, 0.343120, 0.343100, 0.343082, 0.343055], [2021.96, 0.343110, 0.343090, 0.343070, 0.343125],
  [2021.98, 0.343105, 0.343080, 0.343055, 0.343025], [2022.00, 0.343115, 0.343092, 0.343065, 0.343035, 0.343012],
  [2022.02, 0.343130, 0.343110, 0.343088, 0.343060], [2022.04, 0.343140, 0.343120, 0.343100, 0.343070],
  [2022.06, 0.343150, 0.343130, 0.343110, 0.343080], [2022.08, 0.343125, 0.343105, 0.343080, 0.343020],
  [2022.10, 0.343145, 0.343125, 0.343105, 0.343085], [2022.12, 0.343135, 0.343115, 0.343095, 0.343065],
  [2022.14, 0.343155, 0.343130, 0.343110, 0.343090], [2022.16, 0.343120, 0.343100, 0.343075, 0.343045],
  [2022.18, 0.343138, 0.343118, 0.343098, 0.343070], [2022.20, 0.343128, 0.343108, 0.343085, 0.343145],
  [2022.22, 0.343115, 0.343095, 0.343070, 0.343040], [2022.24, 0.343145, 0.343125, 0.343105, 0.343080],
  [2022.26, 0.343015, 0.343000, 0.342970, 0.343110], [2022.28, 0.342960, 0.342940, 0.342925, 0.343080, 0.343120],
  [2022.30, 0.343135, 0.343115, 0.343095, 0.343060], [2022.32, 0.343150, 0.343125, 0.343100, 0.343075],
  [2022.34, 0.343130, 0.343110, 0.343085, 0.343055], [2022.36, 0.343160, 0.343140, 0.343115, 0.343090],
  [2022.38, 0.343125, 0.343105, 0.343080, 0.343030, 0.343020], [2022.40, 0.343165, 0.343145, 0.343125, 0.343105],
  [2022.42, 0.343180, 0.343155, 0.343130, 0.343110], [2022.44, 0.343203, 0.343190, 0.343170, 0.343145, 0.343120],
  [2022.46, 0.343150, 0.343130, 0.343110, 0.343090], [2022.48, 0.343140, 0.343120, 0.343100, 0.343070],
  [2022.50, 0.343160, 0.343135, 0.343115, 0.343095], [2022.52, 0.343145, 0.343125, 0.343105, 0.343080],
  [2022.54, 0.343170, 0.343150, 0.343130, 0.343110], [2022.56, 0.343155, 0.343135, 0.343115, 0.343090],
  [2022.58, 0.343175, 0.343150, 0.343125, 0.343100], [2022.60, 0.343145, 0.343125, 0.343105, 0.343075],
  [2022.62, 0.343160, 0.343140, 0.343120, 0.343095], [2022.64, 0.343135, 0.343115, 0.343095, 0.343070],
  [2022.66, 0.343150, 0.343130, 0.343110, 0.343085], [2022.68, 0.343188, 0.343140, 0.343120, 0.343095],
  [2022.70, 0.343155, 0.343135, 0.343115, 0.343090], [2022.72, 0.343145, 0.343125, 0.343105, 0.343080],
  [2022.74, 0.343165, 0.343145, 0.343125, 0.343100], [2022.76, 0.343188, 0.343170, 0.343150, 0.343130],
  [2022.78, 0.343155, 0.343135, 0.343115, 0.343095], [2022.80, 0.343140, 0.343120, 0.343100, 0.343075],
  [2022.82, 0.343150, 0.343130, 0.343110, 0.343065], [2022.84, 0.343130, 0.343110, 0.343085, 0.343055],
  [2022.85, 0.343025, 0.343010, 0.342995, 0.342980], [2022.87, 0.343135, 0.343115, 0.343095, 0.343070],
  [2022.89, 0.343120, 0.343100, 0.343075, 0.343045], [2022.91, 0.343145, 0.343125, 0.343105, 0.343085],
  [2022.93, 0.343020, 0.343005, 0.342990, 0.342975], [2022.95, 0.343120, 0.343100, 0.343080, 0.343055],
  [2022.97, 0.343125, 0.343105, 0.343085, 0.343060], [2022.99, 0.343115, 0.343095, 0.343075, 0.343050, 0.343025],
  [2023.01, 0.343110, 0.343085, 0.343060, 0.343030, 0.343010], [2023.03, 0.343000, 0.342980, 0.342960, 0.342940, 0.342915],
  [2023.04, 0.342885, 0.342865, 0.342850, 0.342860]
];

const esrTicks = [0.1638, 0.1639, 0.1640, 0.1641, 0.1642];
const esrDomain = [0.16374, 0.164286];
const esrRows = [
  [2018.27, 0.163999, 0.164045, 0.164020], [2018.29, 0.164062, 0.163961], [2018.31, 0.164261, 0.163995, 0.163935],
  [2018.33, 0.164094, 0.164037, 0.163931], [2018.35, 0.164197, 0.164079, 0.164058], [2018.37, 0.164016, 0.163995],
  [2018.39, 0.164174, 0.164033], [2018.41, 0.164100, 0.163997], [2018.43, 0.164153, 0.164056], [2018.45, 0.164113, 0.164016],
  [2018.47, 0.164142, 0.164075], [2018.49, 0.164096, 0.163971], [2018.51, 0.164147, 0.164049, 0.164007], [2018.53, 0.164109, 0.164083, 0.164066],
  [2018.55, 0.164134, 0.164054, 0.163999], [2018.57, 0.164178, 0.164100], [2018.59, 0.164125, 0.164041, 0.163973], [2018.61, 0.164151, 0.164079],
  [2018.63, 0.164223, 0.164117, 0.164020], [2018.65, 0.164087, 0.164033], [2018.67, 0.164147, 0.164066, 0.163990], [2018.69, 0.164109, 0.164075],
  [2018.71, 0.164172, 0.164075, 0.164011], [2018.73, 0.164130, 0.164049], [2018.75, 0.164218, 0.164104, 0.163995], [2018.77, 0.164159, 0.164062],
  [2018.79, 0.164138, 0.164033, 0.163967], [2018.81, 0.164201, 0.164087], [2018.83, 0.164151, 0.164058, 0.164020], [2018.85, 0.164176, 0.164117, 0.164096],
  [2018.87, 0.164155, 0.164092], [2018.89, 0.164125, 0.164033], [2018.91, 0.164185, 0.164083], [2018.93, 0.164142, 0.163999],
  [2018.95, 0.164109, 0.164049], [2018.97, 0.164151, 0.164075, 0.163976], [2018.99, 0.164096, 0.164016], [2019.01, 0.164130, 0.164062],
  [2019.03, 0.164220, 0.164049, 0.163918], [2019.05, 0.164159, 0.163990, 0.163906], [2019.07, 0.164180, 0.164087, 0.163895], [2019.09, 0.164168, 0.164024, 0.163872],
  [2019.11, 0.164125, 0.164007, 0.163931], [2019.13, 0.164142, 0.164066, 0.163973], [2019.15, 0.164100, 0.164016, 0.163948], [2019.17, 0.164109, 0.164033, 0.163999],
  [2019.19, 0.164155, 0.164062], [2019.21, 0.164100, 0.164024], [2019.23, 0.164142, 0.164045], [2019.25, 0.164083, 0.163995],
  [2019.27, 0.164125, 0.164041], [2019.29, 0.164075, 0.164007], [2019.31, 0.164049, 0.163978], [2019.33, 0.164033, 0.164016],
  [2019.35, 0.164138, 0.164058], [2019.37, 0.164201, 0.164033], [2019.39, 0.164117, 0.164016], [2019.41, 0.164125, 0.163999],
  [2019.43, 0.164172, 0.164075, 0.163965], [2019.45, 0.164087, 0.164041], [2019.47, 0.164100, 0.163990], [2019.49, 0.164049, 0.164007],
  [2019.51, 0.164109, 0.164024], [2019.53, 0.164083, 0.163986], [2019.55, 0.164121, 0.164041], [2019.57, 0.164066, 0.163965],
  [2019.59, 0.164096, 0.164016], [2019.61, 0.164058, 0.163952], [2019.63, 0.164075, 0.163995, 0.163973], [2019.65, 0.164033, 0.164007],
  [2019.69, 0.164147, 0.164049], [2019.71, 0.164104, 0.163990], [2019.73, 0.164151, 0.164066], [2019.75, 0.164079, 0.164016],
  [2019.77, 0.164134, 0.163969], [2019.79, 0.164087, 0.164041], [2019.81, 0.164058, 0.163982, 0.163956], [2019.83, 0.164033, 0.164007],
  [2019.85, 0.164096, 0.163990], [2019.87, 0.164151, 0.164033, 0.163935], [2019.89, 0.164079, 0.163965, 0.163897], [2019.91, 0.164113, 0.164024],
  [2019.93, 0.164058, 0.163927, 0.163868], [2019.95, 0.164075, 0.163952], [2019.97, 0.164049, 0.163973, 0.163914], [2019.99, 0.164007, 0.164041],
  [2020.01, 0.164121, 0.164024, 0.163910], [2020.03, 0.164172, 0.164062], [2020.05, 0.164100, 0.163999, 0.163868], [2020.07, 0.164151, 0.164049],
  [2020.09, 0.164113, 0.164020, 0.163948], [2020.11, 0.164138, 0.164041], [2020.13, 0.164075, 0.163973], [2020.15, 0.164092, 0.164007, 0.163961],
  [2020.17, 0.164062, 0.163990, 0.164045], [2020.19, 0.164071, 0.163999, 0.164088], [2020.21, 0.164125, 0.164016, 0.164012], [2020.23, 0.164049, 0.164041, 0.164070],
  [2020.25, 0.164109, 0.163965, 0.163995], [2020.27, 0.164033, 0.163973, 0.164055], [2020.29, 0.164083, 0.163982, 0.164030], [2020.31, 0.164096, 0.164024, 0.164007],
  [2020.33, 0.164071, 0.164024, 0.164098], [2020.35, 0.164079, 0.163999, 0.164040], [2020.37, 0.164121, 0.164045, 0.164075], [2020.39, 0.164062, 0.164033, 0.164010],
  [2020.41, 0.164109, 0.164007, 0.164085], [2020.43, 0.164054, 0.163918, 0.164065], [2020.45, 0.164087, 0.163990, 0.164050], [2020.47, 0.164092, 0.164016, 0.164030],
  [2020.49, 0.164066, 0.164024, 0.164080], [2020.51, 0.164075, 0.163990, 0.164060], [2020.53, 0.164159, 0.164011, 0.164100], [2020.55, 0.164058, 0.164033, 0.164070],
  [2020.57, 0.164147, 0.163999, 0.164040], [2020.59, 0.164041, 0.163973, 0.164085], [2020.61, 0.164087, 0.163944, 0.163986], [2020.63, 0.164092, 0.164049, 0.164025],
  [2020.65, 0.164058, 0.164016, 0.164090], [2020.67, 0.164075, 0.163990, 0.164040], [2020.69, 0.164113, 0.164033, 0.164070], [2020.71, 0.164066, 0.164024, 0.164000],
  [2020.73, 0.164100, 0.163999, 0.163956], [2020.75, 0.164049, 0.163969, 0.164080], [2020.77, 0.164083, 0.163982, 0.164055], [2020.79, 0.164092, 0.164007, 0.164065],
  [2020.81, 0.164058, 0.163927, 0.164000], [2020.83, 0.164007, 0.163973, 0.163914], [2020.85, 0.164130, 0.163990, 0.164060], [2020.87, 0.164033, 0.164016, 0.163855],
  [2020.89, 0.164117, 0.163956, 0.163897], [2020.91, 0.163999, 0.163948, 0.164075], [2020.93, 0.164092, 0.163940, 0.164010], [2020.95, 0.164083, 0.164041, 0.163970],
  [2020.97, 0.164041, 0.163982, 0.164060], [2020.99, 0.164007, 0.163923, 0.164020], [2021.01, 0.164125, 0.163948, 0.163872], [2021.03, 0.164033, 0.163999, 0.164070],
  [2021.05, 0.164049, 0.164024, 0.163995], [2021.07, 0.163990, 0.163914, 0.163906], [2021.09, 0.164079, 0.163961, 0.164040], [2021.11, 0.164016, 0.163969, 0.164085],
  [2021.13, 0.164033, 0.163948, 0.163990], [2021.15, 0.164007, 0.163973, 0.164035], [2021.17, 0.164123, 0.163897, 0.164010], [2021.19, 0.164016, 0.163990, 0.164070],
  [2021.21, 0.164049, 0.163982, 0.163960], [2021.23, 0.163999, 0.163965, 0.164045], [2021.25, 0.164058, 0.163956, 0.163975], [2021.27, 0.164024, 0.163940, 0.164080],
  [2021.29, 0.164100, 0.164033, 0.164060], [2021.31, 0.164066, 0.163999, 0.164090], [2021.33, 0.164125, 0.164016, 0.164045], [2021.35, 0.164075, 0.164041, 0.164110],
  [2021.37, 0.164109, 0.164049, 0.164070], [2021.39, 0.164058, 0.163973, 0.164030], [2021.41, 0.164117, 0.163990, 0.164085], [2021.43, 0.164087, 0.164024, 0.164010],
  [2021.45, 0.164075, 0.163999, 0.164100], [2021.47, 0.164041, 0.163990, 0.164060], [2021.49, 0.164155, 0.163982, 0.164040], [2021.51, 0.164054, 0.164033, 0.164080],
  [2021.53, 0.164092, 0.164015], [2021.55, 0.164024, 0.163910, 0.164110], [2021.57, 0.164125, 0.164007, 0.164070], [2021.59, 0.164066, 0.164016, 0.164045],
  [2021.61, 0.164083, 0.163982, 0.164060], [2021.63, 0.164058, 0.163999, 0.164090], [2021.65, 0.164117, 0.163990, 0.164040], [2021.67, 0.164066, 0.164024, 0.164100],
  [2021.69, 0.164092, 0.164033, 0.164020], [2021.71, 0.164049, 0.164016, 0.164080], [2021.73, 0.164104, 0.163965, 0.164045], [2021.75, 0.164075, 0.163935, 0.164010],
  [2021.77, 0.164079, 0.163855, 0.164020], [2021.79, 0.164033, 0.163940, 0.164070], [2021.81, 0.164104, 0.163889, 0.164000], [2021.83, 0.164049, 0.163995, 0.164040],
  [2021.85, 0.164087, 0.163927, 0.163982], [2021.87, 0.164016, 0.163914, 0.164060], [2021.89, 0.164096, 0.163956, 0.163990], [2021.91, 0.164062, 0.163965, 0.164007],
  [2021.93, 0.164049, 0.163880, 0.164020], [2021.95, 0.164016, 0.163948, 0.163995], [2021.97, 0.164104, 0.163918, 0.164050], [2021.99, 0.164033, 0.163999, 0.163973],
  [2022.01, 0.164066, 0.163940, 0.164005], [2022.03, 0.163990, 0.163931, 0.163982], [2022.05, 0.164075, 0.163906, 0.164030], [2022.07, 0.164041, 0.163889, 0.163965],
  [2022.09, 0.164092, 0.163990, 0.164035], [2022.11, 0.164058, 0.163935, 0.164100], [2022.13, 0.164140, 0.163973, 0.164010], [2022.15, 0.164066, 0.164016, 0.164075],
  [2022.17, 0.164109, 0.164033, 0.164050], [2022.19, 0.164049, 0.163914, 0.164090], [2022.21, 0.164117, 0.163923, 0.163965], [2022.23, 0.164083, 0.163999, 0.164020],
  [2022.25, 0.164079, 0.163965, 0.164095], [2022.27, 0.164058, 0.163952, 0.164030], [2022.29, 0.164125, 0.163935, 0.163923], [2022.31, 0.164066, 0.164024, 0.164100],
  [2022.33, 0.164092, 0.164041, 0.164010], [2022.35, 0.164049, 0.163973, 0.164085], [2022.37, 0.164109, 0.164007, 0.164040], [2022.39, 0.164075, 0.163990, 0.164033],
  [2022.41, 0.164083, 0.163956, 0.164045], [2022.43, 0.164058, 0.163999, 0.164100], [2022.45, 0.164134, 0.163965, 0.164020], [2022.47, 0.164066, 0.164024, 0.164090],
  [2022.49, 0.164092, 0.164041, 0.164010], [2022.51, 0.164049, 0.163990, 0.164033], [2022.53, 0.164109, 0.164007, 0.164060], [2022.55, 0.164075, 0.163973, 0.164035],
  [2022.57, 0.164083, 0.163935, 0.164060], [2022.59, 0.164049, 0.163999, 0.164025], [2022.61, 0.164109, 0.163965, 0.164085], [2022.63, 0.164066, 0.164016, 0.164045],
  [2022.65, 0.164092, 0.164033, 0.164100], [2022.67, 0.164041, 0.163982, 0.164007], [2022.69, 0.164100, 0.163956, 0.164020], [2022.71, 0.164075, 0.163990, 0.164070],
  [2022.73, 0.164075, 0.163906, 0.164040], [2022.75, 0.164049, 0.163990, 0.164065], [2022.77, 0.164119, 0.163876, 0.164030], [2022.79, 0.163864, 0.164016, 0.164024],
  [2022.81, 0.164092, 0.163923, 0.164000], [2022.83, 0.164033, 0.163944, 0.163982], [2022.85, 0.164083, 0.163889, 0.164025], [2022.87, 0.164058, 0.164041, 0.164007],
  [2022.89, 0.164066, 0.163914, 0.164055],
  [2022.91, 0.164096, 0.163990], [2022.93, 0.164087, 0.163969], [2022.95, 0.164058, 0.163952],
  [2022.96, 0.164049, 0.163931, 0.164024], [2022.98, 0.164033, 0.163923, 0.164016], [2022.99, 0.163906, 0.163864, 0.164007, 0.163851],
  [2023.01, 0.163969, 0.163948, 0.163910], [2023.03, 0.163897, 0.163876, 0.163864, 0.163847],
  [2023.04, 0.163804, 0.163779, 0.163771, 0.163764]
];

const titles = ["UV Diode", "Vis Diode", "IR Diode", "ESR Detector"];
const legendLabels = ["200 nm", "900 nm", "1400 nm", "1800 nm"];

// --- layout ---
const W = 1679, H = 2219;
const left = 260, right = 1688;
const tops = [85, 632, 1178, 1724];
const panelH = 430;
const tickLen = 21;
const dotR = 6.8;

const panels = [
  { rows: uvRows, ticks: uvTicks, domain: uvDomain, fmt: ".4f", color: "#dda0dd", alpha: 1 },
  { rows: visRows, ticks: visTicks, domain: visDomain, fmt: ".3f", color: "#90ee90", alpha: 0.6 },
  { rows: irRows, ticks: irTicks, domain: irDomain, fmt: ".4f", color: "#ffb6c1", alpha: 1 },
  { rows: esrRows, ticks: esrTicks, domain: esrDomain, fmt: ".4f", color: "#808080", alpha: 0.9 }
];

const svg = d3.select("#chart").attr("width", W).attr("height", H);
svg.append("rect").attr("width", W).attr("height", H).attr("fill", "#f0f0f0");
const defs = svg.append("defs");

const x = d3.scaleLinear().domain([2018.042, 2023.290]).range([left, right]);

function styleAxis(g) {
  g.select(".domain").remove();
  g.selectAll(".tick line").attr("stroke", "#000").attr("stroke-width", 3);
  g.attr("font-family", "DejaVu Sans").attr("font-size", 31);
  g.selectAll(".tick text").attr("fill", "#000");
}

panels.forEach((p, i) => {
  const top = tops[i], bottom = top + panelH;
  const y = d3.scaleLinear().domain(p.domain).range([bottom, top]);
  const g = svg.append("g");

  defs.append("clipPath").attr("id", "clip" + i)
    .append("rect").attr("x", left).attr("y", top).attr("width", right - left).attr("height", panelH);

  // grid
  g.append("g").selectAll("line").data(years).join("line")
    .attr("x1", d => x(d)).attr("x2", d => x(d)).attr("y1", top).attr("y2", bottom)
    .attr("stroke", "#c4c4c4").attr("stroke-width", 1.3).attr("stroke-dasharray", "3,2");
  g.append("g").selectAll("line").data(p.ticks).join("line")
    .attr("x1", left).attr("x2", right).attr("y1", d => y(d)).attr("y2", d => y(d))
    .attr("stroke", "#b0b0b0").attr("stroke-width", 1.5).attr("stroke-dasharray", "2,1.5");

  // points
  const pts = p.rows.flatMap(([t, ...vs]) => vs.map(v => [t, v]));
  g.append("g").attr("clip-path", `url(#clip${i})`)
    .selectAll("circle").data(pts).join("circle")
    .attr("cx", d => x(d[0])).attr("cy", d => y(d[1])).attr("r", dotR)
    .attr("fill", p.color).attr("fill-opacity", p.alpha);

  // axes, ticks inward on all four sides
  g.append("g").attr("transform", `translate(${left},0)`)
    .call(d3.axisLeft(y).tickValues(p.ticks).tickFormat(d3.format(p.fmt)).tickSize(-tickLen).tickPadding(11))
    .call(styleAxis);
  g.append("g").attr("transform", `translate(${right},0)`)
    .call(d3.axisRight(y).tickValues(p.ticks).tickFormat("").tickSize(-tickLen))
    .call(styleAxis);
  g.append("g").attr("transform", `translate(0,${top})`)
    .call(d3.axisTop(x).tickValues(years).tickFormat("").tickSize(-tickLen))
    .call(styleAxis);
  g.append("g").attr("transform", `translate(0,${bottom})`)
    .call(d3.axisBottom(x).tickValues(years)
      .tickFormat(i === panels.length - 1 ? d3.format("d") : "")
      .tickSize(-tickLen).tickPadding(13))
    .call(styleAxis);

  // frame
  g.append("rect").attr("x", left).attr("y", top).attr("width", right - left).attr("height", panelH)
    .attr("fill", "none").attr("stroke", "#000").attr("stroke-width", 3);

  // title
  g.append("text").attr("x", (left + right) / 2).attr("y", top - 16)
    .attr("text-anchor", "middle").attr("font-size", 46).text(titles[i]);

  // legend
  const lt = g.append("text").attr("x", 1657).attr("y", top + 54)
    .attr("text-anchor", "end").attr("font-size", 31).text(legendLabels[i]);
  const tw = lt.node().getComputedTextLength();
  g.append("circle").attr("cx", 1657 - tw - 59).attr("cy", top + 42).attr("r", 6)
    .attr("fill", p.color).attr("fill-opacity", p.alpha);
});

// y axis label
const yl = svg.append("text").attr("transform", "translate(77,1137) rotate(-90)")
  .attr("text-anchor", "middle").attr("font-size", 37);
yl.append("tspan").text("Version 11 L2 Irradiance [W m");
yl.append("tspan").attr("font-size", 26).attr("dy", -14).text("\u22122");
yl.append("tspan").attr("dy", 14).text(" nm");
yl.append("tspan").attr("font-size", 26).attr("dy", -14).text("\u22121");
yl.append("tspan").attr("dy", 14).text("]");

// x axis label (runs off the bottom edge)
svg.append("text").attr("x", (left + right) / 2).attr("y", 2232)
  .attr("text-anchor", "middle").attr("font-size", 37).text("Date");

// pieces of the surrounding slide text cut by the crop
const slide = svg.append("g").attr("font-family", "Open Sans").attr("fill", "#000");
slide.append("text").attr("x", 21).attr("y", 48).attr("font-size", 74)
  .attr("textLength", 575).attr("lengthAdjust", "spacingAndGlyphs").text("data calibrations");
slide.append("text").attr("x", 15).attr("y", 604).attr("font-size", 78).attr("text-anchor", "end").text("l");
slide.append("text").attr("x", 16).attr("y", 1592).attr("font-size", 70).attr("text-anchor", "end").text(":");
slide.append("text").attr("x", 23).attr("y", 1694).attr("font-size", 70).attr("text-anchor", "end").text("n");
slide.append("text").attr("x", 23).attr("y", 1798).attr("font-size", 70).attr("text-anchor", "end").text("s)");
slide.append("text").attr("x", 43).attr("y", 1900).attr("font-size", 70).attr("text-anchor", "end").text("nt");
slide.append("text").attr("x", 6).attr("y", 2194).attr("font-size", 70).attr("text-anchor", "end").text("s");
</script>
</body>
</html>
